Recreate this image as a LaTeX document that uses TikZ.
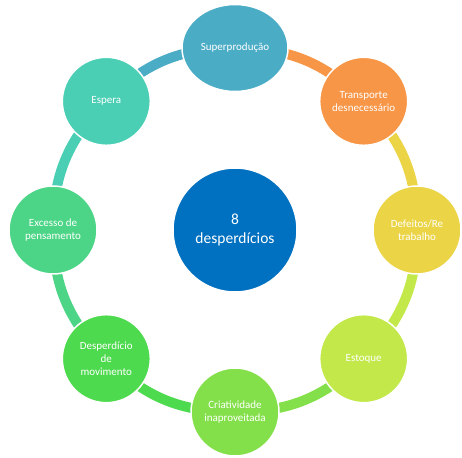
\documentclass[tikz,border=0pt]{standalone}
\usepackage{fontspec}
\setmainfont{Carlito}
\usetikzlibrary{positioning,shapes.geometric}
\pgfdeclarelayer{back}
\pgfsetlayers{back,main}

\definecolor{cCenter}{HTML}{0070C0}
\definecolor{cSup}{HTML}{4BACC6}
\definecolor{cTra}{HTML}{F79646}
\definecolor{cDef}{HTML}{EBD446}
\definecolor{cEst}{HTML}{C3E84A}
\definecolor{cCri}{HTML}{84E04A}
\definecolor{cMov}{HTML}{4EDA4E}
\definecolor{cExc}{HTML}{4CD586}
\definecolor{cEsp}{HTML}{4ACFB4}

\begin{document}
\begin{tikzpicture}[x=1pt,y=1pt,
  waste/.style={circle, minimum size=88pt, inner sep=1pt, draw=white,
    line width=1.5pt, text=white, align=center,
    font=\fontsize{11}{13}\selectfont},
  ring/.style={line width=10pt}]
\useasboundingbox (0,0) rectangle (462,457);
% centro
\node[waste, fill=cCenter, minimum size=124pt,
  font=\fontsize{15.5}{19}\selectfont] (ctr) at (235,227) {8\\desperdícios};
% topo
\node[waste, ellipse, fill=cSup, minimum width=106pt, minimum height=87pt]
  (n1) at ([shift={(90:182)}]ctr.center) {Superprodução};
% restantes
\foreach \i/\a/\col/\txt in {2/45/cTra/{Transporte\\desnecessário},
    3/0/cDef/{Defeitos/Re\\trabalho}, 4/-45/cEst/Estoque,
    5/-90/cCri/{Criatividade\\inaproveitada},
    6/-135/cMov/{Desperdício\\de\\movimento},
    7/180/cExc/{Excesso de\\pensamento}, 8/135/cEsp/Espera}
  \node[waste, fill=\col] (n\i) at ([shift={(\a:182)}]ctr.center) {\txt};
% anel
\begin{pgfonlayer}{back}
\foreach \i/\j/\col in {1/2/cTra, 2/3/cDef, 3/4/cEst, 4/5/cCri,
    5/6/cMov, 6/7/cExc, 7/8/cEsp, 8/1/cSup}
  \draw[ring, draw=\col] (n\i.center) to[bend left=22.5] (n\j.center);
\end{pgfonlayer}
\end{tikzpicture}
\end{document}
